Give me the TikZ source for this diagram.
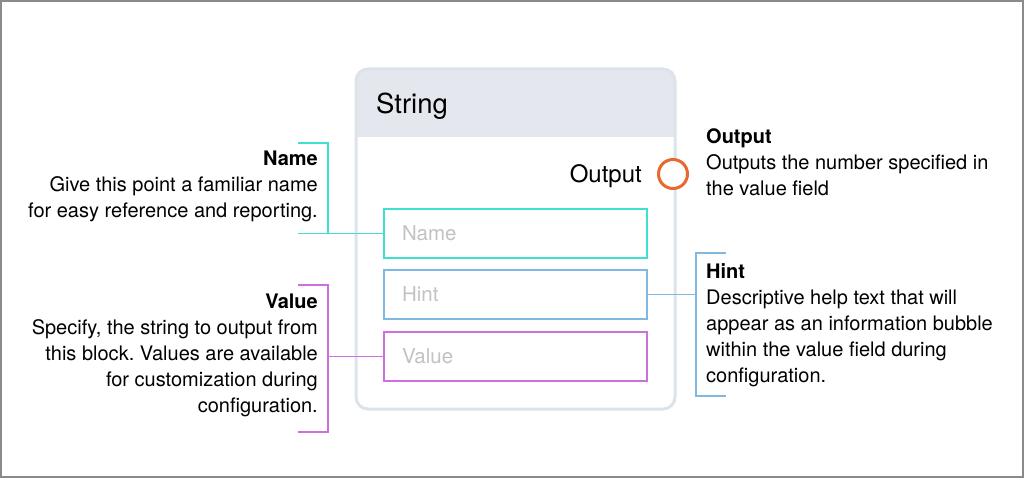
\documentclass[tikz,border=0pt]{standalone}
\usepackage{fontspec}
\setmainfont{TeX Gyre Heros}
\frenchspacing
\definecolor{framegray}{HTML}{8A8A8A}
\definecolor{blockline}{HTML}{DDE3EA}
\definecolor{headfill}{HTML}{E4E8EE}
\definecolor{fieldgray}{HTML}{C2C2C2}
\definecolor{namecol}{HTML}{3FE0D0}
\definecolor{hintcol}{HTML}{80B8E4}
\definecolor{valcol}{HTML}{CC70E0}
\definecolor{outorange}{HTML}{E8692F}
\begin{document}
\begin{tikzpicture}
[x=1pt, y=-1pt,
 field/.style={draw, line width=2pt, minimum width=263pt, minimum height=49pt,
   text width=227pt, inner xsep=18pt, align=left, text=fieldgray,
   text height=14.5pt, text depth=0pt, font=\fontsize{20.5}{24}\selectfont},
 note/.style={inner sep=0pt, font=\fontsize{20}{26}\selectfont},
 big/.style={inner sep=0pt, font=\fontsize{24}{28}\selectfont},
 tie/.style={line width=1.6pt}]
\useasboundingbox (0,0) rectangle (1024,478);
\draw[framegray, line width=2pt] (1,1) rectangle (1023,477);

% block
\begin{scope}
\clip[rounded corners=12pt] (356,69) rectangle (675,409);
\fill[headfill] (356,69) rectangle (675,137);
\end{scope}
\draw[blockline, line width=3pt, rounded corners=12pt] (356,69) rectangle (675,409);
\node[big, anchor=base west, font=\fontsize{27.5}{30}\selectfont] (title) at (376,114) {String};
\node[big, anchor=base east] (outlbl) at (642,183) {Output};
\node[circle, draw=outorange, fill=white, line width=3pt, minimum size=29pt, inner sep=0pt] (outc) at (673,174) {};

\node[field, draw=namecol] (namef) at (515.5,233.5) {Name};
\node[field, draw=hintcol] (hintf) at (515.5,294.5) {Hint};
\node[field, draw=valcol] (valf) at (515.5,356.5) {Value};

% notes
\node[note, anchor=north east, align=right] (namenote) at (318,151)
  {\textbf{Name}\\Give this point a familiar name\\for easy reference and reporting.};
\node[note, anchor=north east, align=right] (valnote) at (318,294)
  {\textbf{Value}\\Specify, the string to output from\\this block. Values are available\\for customization during\\configuration.};
\node[note, anchor=north west, align=left] (outnote) at (706,128)
  {\textbf{Output}\\Outputs the number specified in\\the value field};
\node[note, anchor=north west, align=left] (hintnote) at (706,263)
  {\textbf{Hint}\\Descriptive help text that will\\appear as an information bubble\\within the value field during\\configuration.};

% brackets
\coordinate (namej) at (328,233.5);
\coordinate (valj) at (328,356.5);
\coordinate (hintj) at (696,294.5);
\draw[tie, namecol] (namef.west) -- (namej);
\draw[tie, namecol] (298,143) -| (namej) -- ++(-30,0);
\draw[tie, valcol] (valf.west) -- (valj);
\draw[tie, valcol] (298,285) -| (328,432) -- ++(-30,0);
\draw[tie, hintcol] (hintf.east) -- (hintj);
\draw[tie, hintcol] (726,253) -| (696,396) -- ++(30,0);
\end{tikzpicture}
\end{document}
